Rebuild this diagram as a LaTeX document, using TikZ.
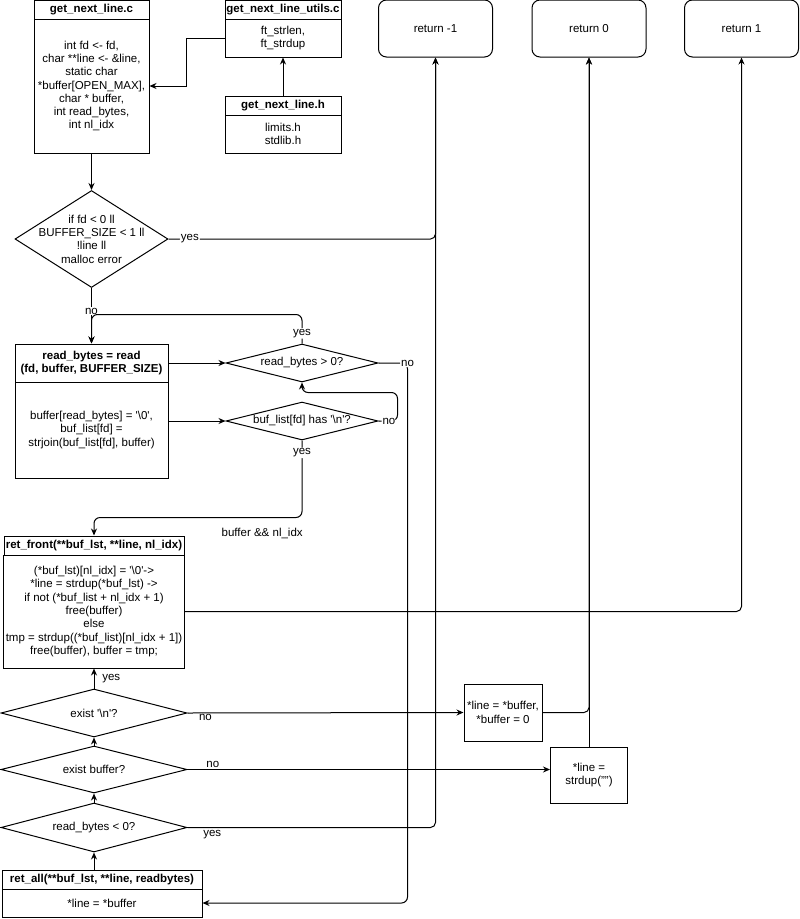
\documentclass[tikz,border=0pt]{standalone}
\usepackage{fontspec}
\setmainfont{Liberation Sans}
\usepackage{tikz}
\usetikzlibrary{shapes,arrows.meta,calc}
\newcommand{\q}{\textquotesingle}
\tikzstyle{box}=[rectangle,draw,line width=1pt,inner sep=2pt,align=center]
\tikzstyle{headbox}=[box,font=\bfseries,inner sep=0.5pt,minimum height=19pt]
\tikzstyle{retbox}=[box,rounded corners=8pt,minimum width=114pt,minimum height=57pt]
\tikzstyle{decision}=[diamond,draw,line width=1pt,inner sep=-1pt,aspect=4,align=center]
\tikzstyle{edge}=[draw,line width=1pt,-{Stealth[length=7pt,width=6pt]}]
\tikzstyle{lbl}=[fill=white,inner sep=1pt]
\begin{document}
\fontsize{11.5}{13.3}\selectfont
\begin{tikzpicture}[x=1pt,y=-1pt]
\useasboundingbox (0,0) rectangle (800,919);

   \foreach \pos/\name/\txt in {{(435.5,28.5)/rmone/return -1}, {(589,28.5)/rzero/return 0}, {(741.5,28.5)/rone/return 1}}
        \node[retbox] (\name) at \pos {\txt};

   % source files
   \node[headbox, minimum width=115pt] (gnlchead) at (91.5,9.5) {get\_next\_line.c};
   \node[box, minimum width=115pt, minimum height=134pt] (gnlc) at (91.5,86)
        {int fd <- fd,\\char **line <- \&line,\\static char\\{}*buffer[OPEN\_MAX],\\char * buffer,\\int read\_bytes,\\int nl\_idx};
   \node[headbox, minimum width=116pt] (utilshead) at (283,9.5) {get\_next\_line\_utils.c};
   \node[box, minimum width=116pt, minimum height=38pt] (utils) at (283,38) {ft\_strlen,\\ft\_strdup};
   \node[headbox, minimum width=116pt] (gnlhhead) at (283,105.5) {get\_next\_line.h};
   \node[box, minimum width=116pt, minimum height=38pt] (gnlh) at (283,134) {limits.h\\stdlib.h};

   % checks and reading
   \node[decision, minimum width=153pt, minimum height=97pt,
        label={[align=center]center:{if fd < 0 ll\\BUFFER\_SIZE < 1 ll\\!line ll\\malloc error}}] (chk) at (91.5,239) {};
   \node[headbox, minimum width=153pt, minimum height=38pt] (readhead) at (91.5,363) {read\_bytes = read\\(fd, buffer, BUFFER\_SIZE)};
   \node[box, minimum width=153pt, minimum height=96pt] (read) at (91.5,430)
        {buffer[read\_bytes] = \q\textbackslash0\q,\\buf\_list[fd] =\\strjoin(buf\_list[fd], buffer)};
   \node[decision, minimum width=152pt, minimum height=38pt] (gtzero) at (302,363) {read\_bytes > 0?};
   \node[decision, minimum width=152pt, minimum height=38pt] (hasnl) at (302,421) {buf\_list[fd] has \q\textbackslash n\q?};

   % ret_front
   \node[headbox, minimum width=180pt] (fronthead) at (94,545.5) {ret\_front(**buf\_lst, **line, nl\_idx)};
   \node[box, minimum width=180pt, minimum height=113pt] (front) at (94,611.5)
        {(*buf\_lst)[nl\_idx] = \q\textbackslash0\q->\\{}*line = strdup(*buf\_lst) ->\\if not (*buf\_list + nl\_idx + 1)\\free(buffer)\\else\\tmp = strdup((*buf\_list)[nl\_idx + 1])\\free(buffer), buffer = tmp;};

   % ret_all
   \node[decision, minimum width=186pt, minimum height=48pt] (existnl) at (94,713) {exist \q\textbackslash n\q?};
   \node[decision, minimum width=186pt, minimum height=47pt] (existbuf) at (94,769.5) {exist buffer?};
   \node[decision, minimum width=186pt, minimum height=49pt] (ltzero) at (94,827.5) {read\_bytes < 0?};
   \node[headbox, minimum width=200pt] (allhead) at (102,879.5) {ret\_all(**buf\_lst, **line, readbytes)};
   \node[box, minimum width=200pt, minimum height=28pt] (all) at (102,903) {{}*line = *buffer};
   \node[box, minimum width=78pt, minimum height=57pt] (setbuf) at (503,712.5) {{}*line = *buffer,\\{}*buffer = 0};
   \node[box, minimum width=77pt, minimum height=56pt] (empty) at (589,775) {{}*line =\\strdup("")};

   % connect
   \draw[edge] (utils.west) -- ++(-38,0) |- (gnlc.east);
   \draw[edge] (gnlhhead.north) -- (utils.south);
   \draw[edge] (gnlc.south) -- (chk.north);
   \draw[edge, rounded corners=5pt] (chk.east) -| node[lbl, pos=0.04] {yes} (rmone.south);
   \draw[edge] (chk.south) -- node[lbl, pos=0.42] {no} (readhead.north);
   \draw[edge, rounded corners=6pt] (gtzero.north) -- node[lbl, pos=0.35] {yes} ++(0,-29) -| (readhead.north);
   \draw[edge] (readhead.east) -- (gtzero.west);
   \draw[edge] (read.east |- hasnl) -- (hasnl.west);
   \draw[edge, rounded corners=6pt] (gtzero.east) -- ++(29,0) node[lbl] {no} |- (all.east);
   \draw[edge, rounded corners=6pt] (hasnl.east) -- node[lbl, pos=0.55] {no} ++(19,0) |- ($(gtzero.south)+(0,10)$) -- (gtzero.south);
   \draw[edge, rounded corners=6pt] (hasnl.south) -- node[lbl, pos=0.16] {yes} ++(0,77)
        node[anchor=north east, xshift=5pt, yshift=-6pt] {buffer \&\& nl\_idx} -| (fronthead.north);
   \draw[edge, rounded corners=5pt] (front.east) -| (rone.south);
   \draw[edge] (existnl.north) -- node[right, xshift=4pt] {yes} (front.south);
   \foreach \source/\dest in {existbuf/existnl, ltzero/existbuf}
          \draw[edge] (\source.north) -- (\dest.south);
   \draw[edge] (ltzero.south |- allhead.north) -- (ltzero.south);
   \draw[edge] (existnl.east) -- node[below, pos=0.065, inner sep=1pt] {no} (setbuf.west);
   \draw[edge, rounded corners=5pt] (setbuf.east) -| (rzero.south);
   \draw[edge] (empty.north) -- (rzero.south);
   \draw[edge] (existbuf.east) -- node[above, pos=0.07, inner sep=1pt] {no} (existbuf.east -| empty.west);
   \draw[edge, rounded corners=5pt] (ltzero.east) -| node[below, pos=0.05, inner sep=2pt] {yes} (rmone.south);

\end{tikzpicture}
\end{document}
